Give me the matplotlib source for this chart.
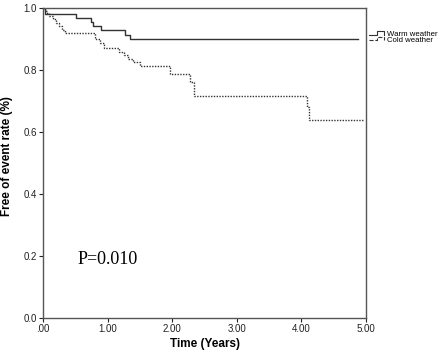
import matplotlib
matplotlib.use('Agg')
from matplotlib import pyplot as plt
from matplotlib.legend_handler import HandlerBase
from matplotlib.lines import Line2D

# Kaplan-Meier estimates
warm_t = [0.0, 0.03, 0.51, 0.74, 0.78, 0.90, 1.27, 1.34, 4.88]
warm_s = [1.0, 0.980, 0.966, 0.953, 0.940, 0.927, 0.912, 0.898, 0.898]

cold_t = [0.0, 0.03, 0.06, 0.10, 0.15, 0.20, 0.24, 0.29, 0.34, 0.80, 0.88,
          0.95, 1.18, 1.25, 1.32, 1.40, 1.50, 1.96, 2.28, 2.34, 4.08, 4.11, 4.95]
cold_s = [1.0, 0.988, 0.982, 0.973, 0.962, 0.951, 0.940, 0.929, 0.918, 0.898,
          0.886, 0.870, 0.858, 0.846, 0.835, 0.824, 0.813, 0.787, 0.760, 0.716,
          0.680, 0.638, 0.638]

x_ticks = [0, 1, 2, 3, 4, 5]
x_labels = ['.00', '1.00', '2.00', '3.00', '4.00', '5.00']
y_ticks = [0.0, 0.2, 0.4, 0.6, 0.8, 1.0]
y_labels = ['0.0', '0.2', '0.4', '0.6', '0.8', '1.0']

line_col = '#333333'
frame_col = '#555555'


class StepHandler(HandlerBase):
    # spss style legend symbol: a small step
    def create_artists(self, legend, orig_handle, xdescent, ydescent,
                       width, height, fontsize, trans):
        lo = -ydescent + height * 0.2
        hi = -ydescent + height * 0.8
        xs = [-xdescent, -xdescent + width * 0.45, -xdescent + width * 0.45,
              -xdescent + width * 0.85, -xdescent + width * 0.85]
        ys = [lo, lo, hi, hi, lo]
        l = Line2D(xs, ys, color=orig_handle.get_color(),
                   linestyle=orig_handle.get_linestyle(),
                   linewidth=0.8, transform=trans)
        return [l]


plt.rcParams['font.family'] = ['Liberation Sans', 'DejaVu Sans']

fig = plt.figure(figsize=(4.47, 3.58), dpi=100)
ax = fig.add_axes([0.0962, 0.1117, 0.7226, 0.8673])

w, = ax.step(warm_t, warm_s, where='post', color=line_col, linewidth=1.0,
             label='Warm weather')
c, = ax.step(cold_t, cold_s, where='post', color=line_col, linewidth=1.0,
             linestyle=(0, (1, 1)), label='Cold weather')

ax.set_xlim(0, 5)
ax.set_ylim(0, 1.0)
ax.set_xticks(x_ticks)
ax.set_xticklabels(x_labels)
ax.set_yticks(y_ticks)
ax.set_yticklabels(y_labels)
ax.tick_params(direction='out', length=3, width=0.8, labelsize=7,
               colors='#222222', pad=1.5)
for sp in ax.spines.values():
    sp.set_color(frame_col)
    sp.set_linewidth(1.0)

ax.set_xlabel('Time (Years)', fontsize=8.5, fontweight='bold', labelpad=3)
ax.set_ylabel('Free of event rate (%)', fontsize=8.5, fontweight='bold')
ax.yaxis.set_label_coords(-0.094, 0.52)

ax.text(0.54, 0.19, 'P=0.010', fontsize=13, va='center', ha='left',
        family=['Liberation Serif', 'DejaVu Serif'])

ax.legend(handles=[w, c], loc='upper left', bbox_to_anchor=(1.0, 0.937),
          frameon=False, fontsize=5.6, handlelength=2.2, handletextpad=0.1,
          labelspacing=-0.2, borderaxespad=0.3, borderpad=0.1,
          handler_map={Line2D: StepHandler()})

plt.savefig('out.png', dpi=100)
